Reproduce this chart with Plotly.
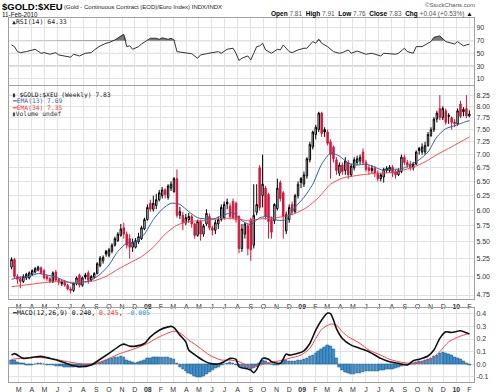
import numpy as np
import pandas as pd
import plotly.graph_objects as go

# ------------------------------------------------------------------ data
first_week = "2007-02-12"
n_weeks = 156

open_ = [5.13, 5.24, 5.00, 4.97, 4.93, 4.98, 4.98, 5.03, 5.06, 5.09,
         5.12, 5.08, 5.00, 4.97, 4.93, 5.06, 4.96, 4.90, 4.93, 4.88,
         4.83, 4.81, 4.90, 5.02, 4.88, 5.02, 5.05, 4.95, 4.99, 5.04,
         5.15, 5.22, 5.36, 5.30, 5.36, 5.45, 5.52, 5.60, 5.72, 5.62,
         5.55, 5.42, 5.42, 5.50, 5.55, 5.70, 5.85, 6.12, 6.02, 6.08,
         6.18, 6.25, 6.35, 6.22, 6.38, 6.32, 6.55, 5.92, 5.92, 5.80,
         5.85, 5.90, 5.78, 5.60, 5.82, 5.62, 5.78, 5.90, 5.72, 5.68,
         5.78, 5.85, 5.88, 6.14, 6.07, 6.15, 6.12, 5.90, 5.40, 5.62,
         5.75, 5.85, 5.45, 5.97, 6.75, 6.25, 6.38, 6.27, 5.85, 5.83,
         6.03, 6.48, 6.30, 5.67, 5.85, 6.10, 5.98, 6.25, 6.55, 6.45,
         6.60, 6.90, 7.15, 7.40, 7.50, 7.85, 7.50, 7.45, 7.25, 7.15,
         6.90, 6.65, 6.80, 6.70, 6.85, 6.62, 6.75, 6.85, 6.88, 7.05,
         6.85, 6.75, 6.70, 6.74, 6.65, 6.55, 6.58, 6.70, 6.70, 6.76,
         6.68, 6.62, 6.68, 6.95, 6.85, 6.82, 6.75, 6.82, 7.12, 7.05,
         7.05, 7.18, 7.38, 7.50, 7.72, 7.95, 7.75, 7.90, 7.80, 7.75,
         7.66, 7.62, 8.05, 7.93, 7.95, 7.79]
high = [5.27, 5.26, 5.03, 5.00, 5.03, 5.05, 5.07, 5.10, 5.13, 5.15,
        5.14, 5.10, 5.02, 4.99, 5.07, 5.09, 4.98, 4.95, 4.95, 4.90,
        4.86, 4.92, 5.00, 5.04, 5.00, 5.05, 5.08, 5.02, 5.06, 5.20,
        5.29, 5.30, 5.38, 5.41, 5.48, 5.58, 5.65, 5.78, 5.80, 5.66,
        5.62, 5.55, 5.56, 5.64, 5.75, 5.88, 6.10, 6.18, 6.25, 6.28,
        6.35, 6.40, 6.38, 6.45, 6.50, 6.58, 6.72, 6.06, 5.98, 5.94,
        5.96, 5.93, 5.80, 5.85, 5.85, 5.78, 6.02, 5.95, 5.75, 5.85,
        5.90, 6.10, 6.15, 6.20, 6.12, 6.20, 6.15, 5.92, 5.78, 5.80,
        5.78, 5.88, 6.45, 6.45, 6.80, 7.00, 6.42, 6.30, 5.90, 6.12,
        6.55, 6.52, 6.33, 5.98, 6.10, 6.15, 6.28, 6.50, 6.58, 6.68,
        6.95, 7.25, 7.48, 7.60, 7.88, 7.88, 7.55, 7.50, 7.30, 7.18,
        6.95, 6.85, 6.85, 6.95, 6.90, 6.82, 6.95, 6.98, 7.00, 7.12,
        6.90, 6.80, 6.80, 6.78, 6.70, 6.65, 6.75, 6.78, 6.80, 6.80,
        6.72, 6.74, 7.00, 7.00, 6.90, 6.88, 6.86, 7.08, 7.15, 7.22,
        7.25, 7.45, 7.55, 7.76, 7.90, 8.25, 8.00, 7.95, 7.85, 7.78,
        7.72, 7.95, 8.12, 7.98, 8.25, 7.91]
low = [5.10, 4.97, 4.90, 4.84, 4.91, 4.95, 4.96, 5.01, 5.04, 5.07,
       5.03, 4.96, 4.94, 4.91, 4.91, 4.93, 4.88, 4.87, 4.86, 4.81,
       4.77, 4.79, 4.88, 4.85, 4.86, 4.96, 4.90, 4.93, 4.97, 5.03,
       5.13, 5.18, 5.28, 5.27, 5.33, 5.43, 5.50, 5.58, 5.55, 5.40,
       5.25, 5.35, 5.40, 5.47, 5.53, 5.68, 5.83, 5.98, 5.98, 6.02,
       6.15, 6.20, 6.20, 6.18, 6.33, 6.30, 5.88, 5.86, 5.68, 5.76,
       5.80, 5.72, 5.55, 5.58, 5.52, 5.58, 5.75, 5.68, 5.60, 5.62,
       5.70, 5.82, 5.85, 6.02, 5.85, 5.85, 5.80, 5.33, 5.35, 5.55,
       5.30, 5.22, 5.40, 5.92, 6.00, 6.05, 5.85, 5.55, 5.55, 5.78,
       6.00, 6.15, 5.55, 5.62, 5.80, 5.92, 5.95, 6.20, 6.38, 6.40,
       6.55, 6.85, 7.10, 7.30, 7.45, 7.35, 7.35, 7.18, 6.55, 6.85,
       6.62, 6.60, 6.62, 6.62, 6.55, 6.58, 6.70, 6.80, 6.82, 6.80,
       6.68, 6.62, 6.65, 6.58, 6.50, 6.50, 6.48, 6.65, 6.66, 6.58,
       6.55, 6.60, 6.65, 6.80, 6.75, 6.70, 6.70, 6.80, 7.00, 7.00,
       7.00, 7.15, 7.35, 7.45, 7.65, 7.70, 7.70, 7.60, 7.62, 7.50,
       7.55, 7.58, 7.74, 7.78, 7.74, 7.76]
close = [5.24, 5.00, 4.96, 4.93, 5.00, 5.03, 5.05, 5.08, 5.11, 5.13,
         5.05, 4.98, 4.97, 4.93, 5.05, 4.95, 4.92, 4.93, 4.88, 4.83,
         4.81, 4.90, 4.98, 4.88, 4.98, 4.99, 4.95, 5.00, 5.04, 5.18,
         5.26, 5.27, 5.32, 5.38, 5.45, 5.55, 5.62, 5.70, 5.62, 5.45,
         5.42, 5.50, 5.52, 5.58, 5.72, 5.85, 6.05, 6.02, 6.12, 6.18,
         6.30, 6.35, 6.27, 6.42, 6.45, 6.55, 5.92, 5.98, 5.80, 5.88,
         5.90, 5.78, 5.60, 5.82, 5.62, 5.75, 5.95, 5.72, 5.68, 5.80,
         5.85, 6.05, 6.10, 6.11, 5.90, 5.88, 5.85, 5.40, 5.70, 5.78,
         5.40, 5.38, 5.92, 6.10, 6.05, 6.45, 5.90, 5.82, 5.65, 6.10,
         6.38, 6.20, 5.90, 5.93, 6.05, 5.98, 6.25, 6.45, 6.48, 6.62,
         6.92, 7.20, 7.45, 7.55, 7.85, 7.42, 7.45, 7.22, 7.00, 6.92,
         6.70, 6.80, 6.68, 6.88, 6.62, 6.78, 6.90, 6.92, 6.95, 6.85,
         6.72, 6.70, 6.74, 6.65, 6.55, 6.62, 6.72, 6.74, 6.76, 6.65,
         6.62, 6.70, 6.95, 6.85, 6.80, 6.75, 6.82, 7.05, 7.08, 7.15,
         7.18, 7.40, 7.50, 7.72, 7.85, 7.75, 7.95, 7.65, 7.78, 7.65,
         7.62, 7.90, 7.78, 7.88, 7.79, 7.83]

ema13_week = [0, 3, 6, 9, 12, 15, 18, 21, 24, 27, 30, 33, 36, 39, 42, 45, 48, 51,
              54, 57, 60, 63, 66, 69, 72, 75, 78, 81, 84, 87, 90, 93, 96, 99, 102,
              105, 108, 111, 114, 117, 120, 123, 126, 129, 132, 135, 138, 141, 144,
              147, 150, 153, 155]
ema13 = [4.96, 4.99, 5.00, 5.04, 5.02, 4.99, 4.94, 4.90, 4.92, 4.95,
         5.03, 5.16, 5.36, 5.48, 5.50, 5.62, 5.85, 6.02, 6.12, 6.10,
         5.98, 5.88, 5.86, 5.87, 5.93, 5.96, 5.83, 5.77, 5.88, 5.90,
         5.84, 5.85, 6.05, 6.22, 6.45, 6.82, 7.03, 6.97, 6.84, 6.80,
         6.82, 6.76, 6.70, 6.72, 6.73, 6.80, 6.90, 7.05, 7.35, 7.52,
         7.58, 7.65, 7.69]

ema34_week = [0, 4, 8, 12, 16, 20, 24, 28, 32, 36, 40, 44, 48, 52, 56, 60, 64, 68,
              72, 76, 80, 84, 88, 92, 96, 100, 104, 108, 112, 116, 120, 124, 128,
              132, 136, 140, 144, 148, 152, 155]
ema34 = [4.86, 4.88, 4.90, 4.92, 4.93, 4.92, 4.92, 4.94, 5.00, 5.10,
         5.19, 5.28, 5.42, 5.62, 5.76, 5.82, 5.83, 5.85, 5.87, 5.87,
         5.83, 5.86, 5.87, 5.90, 5.95, 6.05, 6.22, 6.45, 6.56, 6.60,
         6.63, 6.65, 6.66, 6.70, 6.76, 6.86, 7.00, 7.12, 7.25, 7.35]

rsi_week = [0, 1, 2, 3, 5, 6, 8, 10, 11, 13, 15, 16, 18, 20, 21, 23, 25, 27, 28, 30,
            32, 33, 35, 37, 38, 39, 40, 41, 42, 43, 44, 46, 47, 49, 50, 51, 53, 54,
            55, 56, 58, 59, 61, 63, 64, 66, 68, 70, 71, 73, 75, 76, 77, 78, 80, 81,
            82, 83, 84, 85, 86, 88, 90, 91, 92, 94, 95, 97, 99, 100, 102, 103, 104,
            105, 107, 109, 111, 112, 114, 115, 117, 119, 120, 122, 124, 125, 126,
            128, 130, 131, 133, 134, 136, 137, 139, 141, 142, 143, 145, 147, 148,
            150, 151, 153, 154, 155]
rsi = [63.3, 60.6, 52.8, 51.2, 52.8, 53.8, 56.5, 50.2, 51.2, 48.7,
       51.2, 47.6, 46.0, 44.0, 48.7, 46.0, 50.2, 51.2, 55.4, 61.7,
       65.9, 66.9, 71.1, 78.0, 80.0, 60.6, 62.0, 56.5, 58.0, 60.6,
       64.8, 70.0, 73.7, 73.7, 72.1, 74.5, 72.1, 73.7, 71.1, 52.8,
       51.2, 50.2, 49.5, 42.4, 47.6, 49.5, 51.2, 52.8, 50.2, 56.5,
       58.1, 50.2, 39.0, 42.4, 46.0, 39.7, 50.2, 60.6, 61.7, 65.9,
       55.4, 50.2, 56.5, 55.4, 63.3, 52.8, 51.2, 55.4, 58.1, 58.1,
       68.5, 65.9, 72.1, 65.9, 60.6, 52.8, 50.2, 51.2, 55.4, 50.2,
       53.8, 50.2, 48.7, 50.2, 47.6, 46.0, 50.2, 49.5, 48.7, 50.2,
       58.1, 52.8, 50.2, 60.6, 60.6, 65.9, 68.5, 75.3, 77.4, 68.5,
       66.9, 64.8, 68.5, 61.7, 63.3, 64.33]

macd_week = [0, 1, 4, 7, 10, 13, 16, 20, 23, 27, 30, 33, 37, 38, 40, 42, 45, 47, 50,
             53, 54, 55, 57, 59, 60, 63, 65, 67, 70, 72, 74, 76, 77, 80, 81, 82, 83,
             85, 87, 88, 91, 93, 94, 97, 99, 101, 103, 105, 107, 108, 109, 110, 112,
             115, 118, 121, 125, 128, 131, 134, 136, 138, 141, 143, 145, 147, 149,
             152, 154, 155]
macd = [0.073, 0.085, 0.047, 0.055, 0.063, 0.047, 0.029, -0.005, -0.019, -0.005,
        0.040, 0.087, 0.152, 0.160, 0.144, 0.144, 0.165, 0.217, 0.270, 0.296,
        0.300, 0.290, 0.231, 0.178, 0.113, 0.060, 0.029, 0.008, 0.003, 0.021,
        0.047, 0.040, -0.019, -0.037, -0.045, -0.066, -0.040, 0.047, 0.040, 0.021,
        0.008, 0.081, 0.073, 0.087, 0.107, 0.165, 0.270, 0.350, 0.405, 0.400,
        0.350, 0.283, 0.205, 0.152, 0.126, 0.100, 0.047, 0.021, 0.008, -0.005,
        0.029, 0.040, 0.066, 0.113, 0.205, 0.257, 0.252, 0.265, 0.250, 0.240]

signal_week = [0, 3, 7, 13, 19, 24, 29, 33, 37, 41, 46, 50, 55, 57, 60, 64, 67, 71,
               74, 77, 80, 82, 85, 88, 91, 94, 98, 101, 103, 105, 108, 110, 112, 114,
               118, 121, 125, 128, 131, 135, 138, 142, 145, 148, 152, 155]
signal = [0.040, 0.047, 0.055, 0.047, 0.021, 0.003, 0.008, 0.047, 0.087, 0.118,
          0.165, 0.217, 0.262, 0.249, 0.192, 0.126, 0.073, 0.034, 0.034, 0.021,
          -0.010, -0.022, 0.000, 0.018, 0.029, 0.047, 0.073, 0.126, 0.205, 0.276,
          0.318, 0.310, 0.257, 0.218, 0.165, 0.113, 0.073, 0.040, 0.021, 0.008,
          0.013, 0.040, 0.100, 0.178, 0.223, 0.245]

hist = [0.034, 0.030, 0.015, 0.012, 0.008, -0.004, -0.006, -0.004, 0.004, 0.008,
        0.006, 0.002, -0.004, -0.008, -0.010, -0.012, -0.016, -0.018, -0.020, -0.022,
        -0.024, -0.022, -0.018, -0.020, -0.016, -0.012, -0.010, -0.006, -0.002, 0.006,
        0.016, 0.024, 0.030, 0.038, 0.045, 0.052, 0.058, 0.064, 0.055, 0.035,
        0.022, 0.015, 0.012, 0.015, 0.022, 0.034, 0.045, 0.050, 0.052, 0.055,
        0.058, 0.058, 0.055, 0.052, 0.048, 0.040, 0.010, -0.020, -0.040, -0.055,
        -0.070, -0.082, -0.095, -0.105, -0.105, -0.095, -0.080, -0.065, -0.050, -0.035,
        -0.022, -0.008, 0.004, 0.012, 0.014, 0.008, -0.004, -0.018, -0.028, -0.030,
        -0.034, -0.036, -0.030, -0.015, 0.010, 0.030, 0.028, 0.012, 0.004, -0.004,
        -0.008, 0.010, 0.035, 0.030, 0.028, 0.027, 0.028, 0.030, 0.032, 0.038,
        0.048, 0.060, 0.075, 0.090, 0.105, 0.120, 0.135, 0.150, 0.140, 0.115,
        0.050, -0.020, -0.050, -0.062, -0.070, -0.075, -0.076, -0.072, -0.068, -0.060,
        -0.055, -0.055, -0.054, -0.053, -0.052, -0.050, -0.046, -0.042, -0.040, -0.036,
        -0.030, -0.022, -0.014, -0.008, -0.004, 0.004, 0.010, 0.018, 0.022, 0.026,
        0.030, 0.036, 0.046, 0.060, 0.075, 0.090, 0.095, 0.090, 0.080, 0.068,
        0.056, 0.045, 0.036, 0.024, 0.012, -0.005]

price_ticks = [4.75, 5.00, 5.25, 5.50, 5.75, 6.00, 6.25, 6.50, 6.75, 7.00,
               7.25, 7.50, 7.75, 8.00, 8.25]
rsi_ticks = [10, 30, 50, 70, 90]
macd_ticks = [-0.1, 0.0, 0.1, 0.2, 0.3, 0.4]
macd_tick_text = ["-0.1", "0.0", "0.1", "0.2", "0.3", "0.4"]
month_labels = ["M", "A", "M", "J", "J", "A", "S", "O", "N", "D",
                "<b>08</b>", "F", "M", "A", "M", "J", "J", "A", "S", "O", "N", "D",
                "<b>09</b>", "F", "M", "A", "M", "J", "J", "A", "S", "O", "N", "D",
                "<b>10</b>", "F"]

# ------------------------------------------------------------------ helpers
dates = pd.date_range(first_week, periods=n_weeks, freq="7D")
month_dates = pd.date_range("2007-03-01", periods=len(month_labels), freq="MS")

W, H = 499, 392
ML, MR = 9, 25
PW = W - ML - MR


def fx(px):
    return (px - ML) / PW


def fy(py):
    return 1 - py / H


o = np.array(open_); hgh = np.array(high); lw = np.array(low); c = np.array(close)
prev_c = np.concatenate([[c[0]], c[:-1]])
up_week = c >= prev_c
dn_week = ~up_week

RED = "#d6163c"
BLUE_EMA = "#2c63a8"
RED_EMA = "#ff4a4a"
GRID = "#e2e2e2"
BORDER = "#a0a0a0"

fig = go.Figure()

# ---------------- RSI panel
rsi_dates = dates[rsi_week]
rsi_arr = np.array(rsi)
fig.add_trace(go.Scatter(x=rsi_dates, y=[70] * len(rsi), mode="lines",
                         line=dict(width=0, color="rgba(0,0,0,0)"),
                         hoverinfo="skip", showlegend=False, xaxis="x", yaxis="y"))
fig.add_trace(go.Scatter(x=rsi_dates, y=np.maximum(rsi_arr, 70), mode="lines",
                         line=dict(width=0, color="rgba(0,0,0,0)"), fill="tonexty",
                         fillcolor="#7a7a7a", hoverinfo="skip", showlegend=False,
                         xaxis="x", yaxis="y"))
fig.add_trace(go.Scatter(x=rsi_dates, y=rsi, mode="lines",
                         line=dict(width=1, color="#333333"),
                         showlegend=False, xaxis="x", yaxis="y"))

# ---------------- price panel
for mask, col, inc_fill, dec_fill in [(up_week, "#000000", "#ffffff", "#000000"),
                                      (dn_week, RED, "#ffffff", RED)]:
    fig.add_trace(go.Candlestick(
        x=dates[mask], open=o[mask], high=hgh[mask], low=lw[mask], close=c[mask],
        increasing=dict(line=dict(color=col, width=1), fillcolor=inc_fill),
        decreasing=dict(line=dict(color=col, width=1), fillcolor=dec_fill),
        whiskerwidth=0, showlegend=False, xaxis="x2", yaxis="y2"))

fig.add_trace(go.Scatter(x=dates[ema34_week], y=ema34, mode="lines",
                         line=dict(width=1, color=RED_EMA, shape="spline", smoothing=0.6),
                         showlegend=False, xaxis="x2", yaxis="y2"))
fig.add_trace(go.Scatter(x=dates[ema13_week], y=ema13, mode="lines",
                         line=dict(width=1, color=BLUE_EMA, shape="spline", smoothing=0.6),
                         showlegend=False, xaxis="x2", yaxis="y2"))

# ---------------- MACD panel
fig.add_trace(go.Bar(x=dates, y=hist, width=6 * 86400000,
                     marker=dict(color="#3f90cc", line=dict(color="#1f5f92", width=0.6)),
                     showlegend=False, xaxis="x3", yaxis="y3"))
fig.add_trace(go.Scatter(x=dates[signal_week], y=signal, mode="lines",
                         line=dict(width=1, color="#ff4040", shape="spline", smoothing=0.7),
                         showlegend=False, xaxis="x3", yaxis="y3"))
fig.add_trace(go.Scatter(x=dates[macd_week], y=macd, mode="lines",
                         line=dict(width=1.6, color="#111111", shape="spline", smoothing=0.7),
                         showlegend=False, xaxis="x3", yaxis="y3"))

# ---------------- axes
tickfont = dict(family="Liberation Sans, Arial, sans-serif", size=7, color="#333333")
xbase = dict(type="date", range=["2007-02-06", "2010-02-12"], tickmode="array",
             tickvals=month_dates, ticktext=month_labels, showgrid=True,
             gridcolor=GRID, gridwidth=1, showline=True, linecolor=BORDER, linewidth=1,
             mirror=True, ticks="", zeroline=False, tickfont=tickfont,
             rangeslider=dict(visible=False), fixedrange=True)
ybase = dict(side="right", showgrid=True, gridcolor=GRID, gridwidth=1, showline=True,
             linecolor=BORDER, linewidth=1, mirror=True, ticks="", zeroline=False,
             tickfont=tickfont, fixedrange=True, tickmode="array")

fig.update_layout(
    xaxis=dict(xbase, anchor="y", domain=[0, 1], showticklabels=False),
    xaxis2=dict(xbase, anchor="y2", domain=[0, 1], matches="x"),
    xaxis3=dict(xbase, anchor="y3", domain=[0, 1], matches="x"),
    yaxis=dict(ybase, domain=[fy(85), fy(18.3)], range=[0.5, 105],
               tickvals=rsi_ticks, ticktext=[str(v) for v in rsi_ticks]),
    yaxis2=dict(ybase, domain=[fy(299.3), fy(86)], type="log",
                range=[np.log10(4.694), np.log10(8.46)],
                tickvals=price_ticks, ticktext=[f"{v:.2f}" for v in price_ticks]),
    yaxis3=dict(ybase, domain=[fy(382.3), fy(308.3)], range=[-0.142, 0.443],
                tickvals=macd_ticks, ticktext=macd_tick_text),
    width=W, height=H, autosize=False,
    margin=dict(l=ML, r=MR, t=0, b=0, pad=0),
    paper_bgcolor="white", plot_bgcolor="white",
    showlegend=False, bargap=0, barmode="overlay",
)

# RSI reference lines
shapes = []
for lvl, dash in [(70, "solid"), (30, "solid"), (50, "dashdot")]:
    shapes.append(dict(type="line", xref="x domain", yref="y", x0=0, x1=1, y0=lvl, y1=lvl,
                       line=dict(color="#8a8a8a", width=1, dash=dash), layer="below"))
fig.update_layout(shapes=shapes)

# ---------------- texts
SANS = "Liberation Sans, Arial, sans-serif"
MONO = "DejaVu Sans Mono, monospace"
texts = [
    (1, 6.3, "<b>$GOLD:$XEU</b>", SANS, 9.5, "#000", "left"),
    (63, 7, "(Gold - Continuous Contract (EOD)/Euro Index) INDX/INDX", SANS, 6, "#222", "left"),
    (1, 15, "11-Feb-2010", SANS, 6.3, "#111", "left"),
    (476, 5, "©StockCharts.com", SANS, 6, "#555", "right"),
    (474, 14, "<b>Open</b> <span style='color:#555'>7.81</span>  <b>High</b> "
              "<span style='color:#555'>7.91</span>  <b>Low</b> <span style='color:#555'>7.76</span>  "
              "<b>Close</b> <span style='color:#555'>7.83</span>  <b>Chg</b> "
              "<span style='color:#555'>+0.04 (+0.53%)</span> ▲", SANS, 6.5, "#000", "right"),
    (11, 22, "▲RSI(14) 64.33", MONO, 6.5, "#222", "left"),
    (11, 94.5, "▮ $GOLD:$XEU (Weekly) 7.83", MONO, 6.3, "#111", "left"),
    (11, 100.8, "━EMA(13) 7.69", MONO, 6.3, BLUE_EMA, "left"),
    (11, 107.1, "━EMA(34) 7.35", MONO, 6.3, "#ff3030", "left"),
    (11, 113.4, "▮Volume undef", MONO, 6.3, "#333", "left"),
    (11, 313, "━MACD(12,26,9) 0.240, <span style='color:#ff3030'>0.245</span>, "
              "<span style='color:#3399cc'>-0.005</span>", MONO, 6.5, "#111", "left"),
]
for px, py, t, fam, size, col, anchor in texts:
    fig.add_annotation(x=fx(px), y=fy(py), xref="paper", yref="paper", text=t,
                       showarrow=False, xanchor=anchor, yanchor="middle",
                       font=dict(family=fam, size=size, color=col), borderpad=0)

fig.write_html("out.html", config={"displayModeBar": False},
               post_script="document.body.style.margin='0';document.body.style.padding='0';")
